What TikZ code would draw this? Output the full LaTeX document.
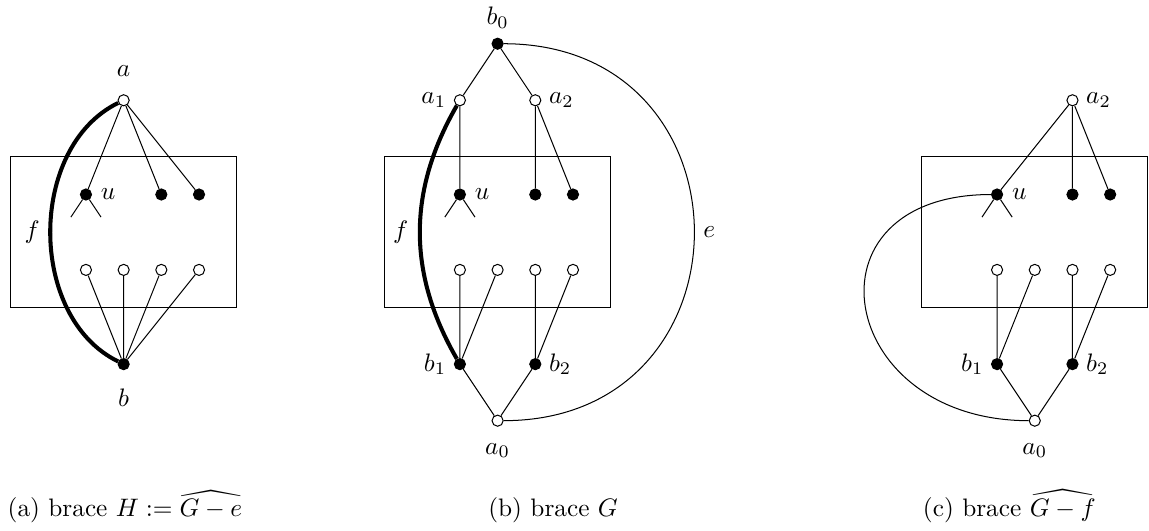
\documentclass[tikz,border=0pt]{standalone}
\usepackage{amsmath, amssymb}

\begin{document}
\begin{tikzpicture}[x=0.524cm, y=0.524cm,
  wv/.style={circle, draw, fill=white, inner sep=0pt, minimum size=4.4pt},
  bv/.style={circle, draw, fill=black, inner sep=0pt, minimum size=4.4pt},
  fedge/.style={line width=1.6pt},
  captext/.style={anchor=base west, inner sep=0pt}]
  \useasboundingbox (0,0) rectangle (30.48,14.06);

  % (a) brace H
  \draw (0.28,5.9) rectangle (6.28,9.9);
  \node[wv, label={[label distance=3.5pt]above:$a$}] (a) at (3.28,11.4) {};
  \node[bv, label=right:$u$] (u) at (2.28,8.9) {};
  \node[bv] (x2) at (4.28,8.9) {};
  \node[bv] (x3) at (5.28,8.9) {};
  \node[wv] (y1) at (2.28,6.9) {};
  \node[wv] (y2) at (3.28,6.9) {};
  \node[wv] (y3) at (4.28,6.9) {};
  \node[wv] (y4) at (5.28,6.9) {};
  \node[bv, label={[label distance=4pt]below:$b$}] (b) at (3.28,4.4) {};
  \coordinate (ul) at (1.88,8.3);
  \coordinate (ur) at (2.68,8.3);
  \draw (a) -- (u) (a) -- (x2) (a) -- (x3);
  \draw (b) -- (y1) (b) -- (y2) (b) -- (y3) (b) -- (y4);
  \draw (ul) -- (u) -- (ur);
  \draw[fedge] (a) to[bend right=64] node[left] {$f$} (b);
  \node[captext] (capa) at (0.19,0.35) {(a) brace $H := \widehat{G-e}$};

  % (b) brace G
  \draw (10.2,5.9) rectangle (16.2,9.9);
  \node[bv, label=above:$b_0$] (gb0) at (13.2,12.9) {};
  \node[wv, label={[label distance=-0.5pt]left:$a_1$}] (ga1) at (12.2,11.4) {};
  \node[wv, label={[label distance=-0.5pt]right:$a_2$}] (ga2) at (14.2,11.4) {};
  \node[bv, label=right:$u$] (gu) at (12.2,8.9) {};
  \node[bv] (gx2) at (14.2,8.9) {};
  \node[bv] (gx3) at (15.2,8.9) {};
  \node[wv] (gy1) at (12.2,6.9) {};
  \node[wv] (gy2) at (13.2,6.9) {};
  \node[wv] (gy3) at (14.2,6.9) {};
  \node[wv] (gy4) at (15.2,6.9) {};
  \node[bv, label={[label distance=-0.5pt]left:$b_1$}] (gb1) at (12.2,4.4) {};
  \node[bv, label={[label distance=-0.5pt]right:$b_2$}] (gb2) at (14.2,4.4) {};
  \node[wv, label={[label distance=3pt]below:$a_0$}] (ga0) at (13.2,2.9) {};
  \coordinate (gul) at (11.8,8.3);
  \coordinate (gur) at (12.6,8.3);
  \draw (gb0) -- (ga1) (gb0) -- (ga2);
  \draw (ga1) -- (gu) (ga2) -- (gx2) (ga2) -- (gx3);
  \draw (gb1) -- (gy1) (gb1) -- (gy2) (gb2) -- (gy3) (gb2) -- (gy4);
  \draw (gb1) -- (ga0) (gb2) -- (ga0);
  \draw (gul) -- (gu) -- (gur);
  \draw[fedge] (ga1) to[bend right=30] node[left=0.5pt] {$f$} (gb1);
  \draw (gb0) to[out=0, in=0, looseness=1.73] node[right] {$e$} (ga0);
  \node[captext] (capb) at (12.94,0.35) {(b) brace $G$};

  % (c) brace G-f
  \draw (24.45,5.9) rectangle (30.45,9.9);
  \node[wv, label={[label distance=-0.5pt]right:$a_2$}] (ca2) at (28.45,11.4) {};
  \node[bv, label=right:$u$] (cu) at (26.45,8.9) {};
  \node[bv] (cx2) at (28.45,8.9) {};
  \node[bv] (cx3) at (29.45,8.9) {};
  \node[wv] (cy1) at (26.45,6.9) {};
  \node[wv] (cy2) at (27.45,6.9) {};
  \node[wv] (cy3) at (28.45,6.9) {};
  \node[wv] (cy4) at (29.45,6.9) {};
  \node[bv, label={[label distance=-0.5pt]left:$b_1$}] (cb1) at (26.45,4.4) {};
  \node[bv, label={[label distance=-0.5pt]right:$b_2$}] (cb2) at (28.45,4.4) {};
  \node[wv, label={[label distance=3pt]below:$a_0$}] (ca0) at (27.45,2.9) {};
  \coordinate (cul) at (26.05,8.3);
  \coordinate (cur) at (26.85,8.3);
  \draw (ca2) -- (cu) (ca2) -- (cx2) (ca2) -- (cx3);
  \draw (cb1) -- (cy1) (cb1) -- (cy2) (cb2) -- (cy3) (cb2) -- (cy4);
  \draw (cb1) -- (ca0) (cb2) -- (ca0);
  \draw (cul) -- (cu) -- (cur);
  \draw (cu) to[out=180, in=180, looseness=2.15] (ca0);
  \node[captext] (capc) at (24.47,0.35) {(c) brace $\widehat{G-f}$};
\end{tikzpicture}
\end{document}
